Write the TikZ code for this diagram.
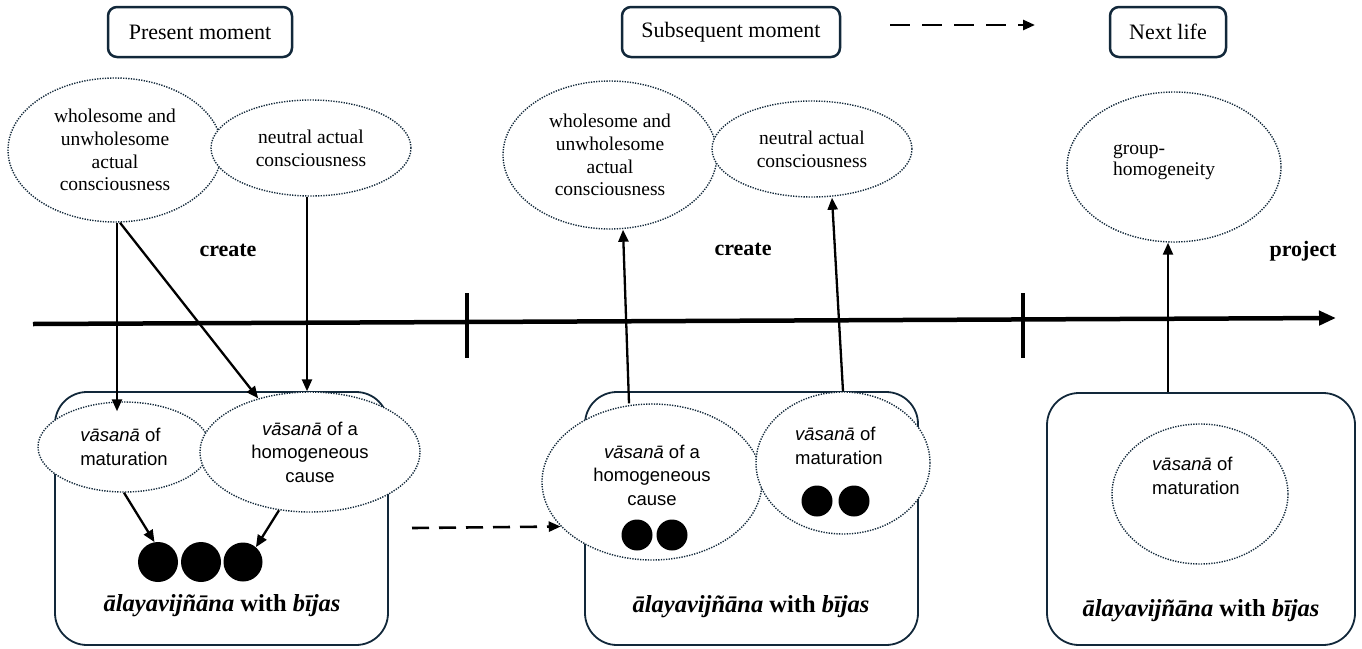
\documentclass[tikz,border=0pt]{standalone}
\usepackage{fontspec}
\setmainfont{Liberation Serif}
\setsansfont{Liberation Sans}
\usetikzlibrary{arrows.meta,shapes.geometric,calc}
\definecolor{navy}{RGB}{18,40,58}
\begin{document}
\begin{tikzpicture}[x=1pt,y=-1pt,
 topbox/.style={draw=navy,line width=2.5pt,rounded corners=9pt,minimum height=50pt,inner sep=0pt,font=\fontsize{22}{26}\selectfont},
 bigbox/.style={draw=navy,line width=1.8pt,rounded corners=32pt,inner sep=0pt},
 ell/.style={ellipse,draw=navy,line width=1.4pt,dash pattern=on 1.3pt off 1.3pt,fill=white,inner sep=0pt,align=center,font=\fontsize{19.5}{22.7}\selectfont},
 sell/.style={ell,font=\sffamily\fontsize{18.5}{23.5}\selectfont},
 stxt/.style={font=\sffamily\fontsize{18.5}{23.5}\selectfont,align=left,inner sep=0pt},
 rtxt/.style={font=\fontsize{19.5}{21.5}\selectfont,align=left,inner sep=0pt},
 seed/.style={circle,fill=black,inner sep=0pt},
 arr/.style={line width=2.3pt,-{Triangle[length=12pt,width=10pt]}},
 dasharr/.style={line width=2.6pt,dash pattern=on 20pt off 12pt,-{Triangle[length=12pt,width=10pt]}},
 verblabel/.style={font=\bfseries\fontsize{22}{26}\selectfont,inner sep=0pt},
 alaya/.style={font=\bfseries\fontsize{24.5}{30}\selectfont,inner sep=0pt},
]
\useasboundingbox (0,0) rectangle (1362,648);

% top labels
\node[topbox,minimum width=184pt] (t1) at (200,32) {Present moment};
\node[topbox,minimum width=218pt] (t2) at (731,32) {Subsequent moment};
\node[topbox,minimum width=116pt] (t3) at (1168,32) {Next life};
\coordinate (ts) at (890,25);
\coordinate (te) at (1035,25);
\draw[dasharr] (ts) -- (te);

% timeline
\coordinate (tl0) at (33,324);
\coordinate (tl1) at (1336,318);
\draw[line width=4.5pt,-{Triangle[length=17pt,width=14pt]}] (tl0) -- (tl1);
\draw[line width=4.5pt] (467,293) -- (467,358);
\draw[line width=4.5pt] (1023,293) -- (1023,358);

% big boxes
\node[bigbox,minimum width=333pt,minimum height=253pt] (b1) at (221.5,518.5) {};
\node[bigbox,minimum width=333pt,minimum height=253pt] (b2) at (751.5,518.5) {};
\node[bigbox,minimum width=308pt,minimum height=252pt] (b3) at (1201,519) {};

% upper ellipses
\node[ell,minimum width=214pt,minimum height=144pt] (w1) at (115,150) {wholesome and\\unwholesome\\actual\\consciousness};
\node[ell,minimum width=200pt,minimum height=96pt] (n1) at (311,148) {neutral actual\\consciousness};
\node[ell,minimum width=214pt,minimum height=148pt] (w2) at (610,155) {wholesome and\\unwholesome\\actual\\consciousness};
\node[ell,minimum width=200pt,minimum height=96pt] (n2) at (812,149) {neutral actual\\consciousness};
\node[ell,minimum width=214pt,minimum height=150pt] (g) at (1174,167) {};
\node[rtxt,anchor=west] (gt) at (1113,162) {group-\\homogeneity};

% lower ellipses
\node[sell,align=left,minimum width=172pt,minimum height=90pt] (m1) at (124,447) {\textit{vāsanā} of\\maturation};
\node[sell,minimum width=220pt,minimum height=120pt] (h1) at (310,452) {\textit{vāsanā} of a\\homogeneous\\cause};
\node[ell,minimum width=220pt,minimum height=156pt] (h2) at (652,482) {};
\node[ell,minimum width=174pt,minimum height=142pt] (m2) at (843,463) {};
\node[ell,minimum width=176pt,minimum height=140pt] (m3) at (1200,494) {};
\node[stxt,align=center] (h2t) at (652,475) {\textit{vāsanā} of a\\homogeneous\\cause};
\node[stxt,anchor=west] (m2t) at (795,446) {\textit{vāsanā} of\\maturation};
\node[stxt,anchor=west] (m3t) at (1152,476) {\textit{vāsanā} of\\maturation};

% seeds
\node[seed,minimum size=40pt] (d1) at (158,562) {};
\node[seed,minimum size=40pt] (d2) at (201,562) {};
\node[seed,minimum size=39pt] (d3) at (243,562) {};
\node[seed,minimum size=31pt] (d4) at (637,535) {};
\node[seed,minimum size=31pt] (d5) at (672,535) {};
\node[seed,minimum size=31pt] (d6) at (817,501) {};
\node[seed,minimum size=31pt] (d7) at (854,501) {};

% labels
\node[verblabel] (c1) at (228,250) {create};
\node[verblabel] (c2) at (743,249) {create};
\node[verblabel] (pj) at (1303,251) {project};
\node[alaya] (a1) at (222,606) {\textit{ālayavijñāna} with \textit{bījas}};
\node[alaya] (a2) at (751,607) {\textit{ālayavijñāna} with \textit{bījas}};
\node[alaya] (a3) at (1201,611) {\textit{ālayavijñāna} with \textit{bījas}};

% connectors
\draw[arr] ([xshift=2pt]w1.south) -- ([xshift=-7pt,yshift=-10pt]m1.north);
\draw[arr] ([xshift=5pt]w1.south) -- (h1.134);
\draw[arr] ([xshift=-4pt]n1.south) -- ([xshift=-3pt]h1.north);
\draw[arr] (m1.south) -- (d1.100);
\draw[arr] (h1.242) -- (d3.49);
\coordinate (ds) at (412,528);
\draw[dasharr,dash pattern=on 17pt off 10pt] (ds) -- (h2.206);
\draw[arr] ([xshift=-23pt]h2.north) -- ([xshift=13pt]w2.south);
\draw[arr] (m2.north) -- ([xshift=20pt]n2.south);
\draw[arr] ([xshift=-33pt]b3.north) -- ([xshift=-6pt]g.south);
\end{tikzpicture}
\end{document}
